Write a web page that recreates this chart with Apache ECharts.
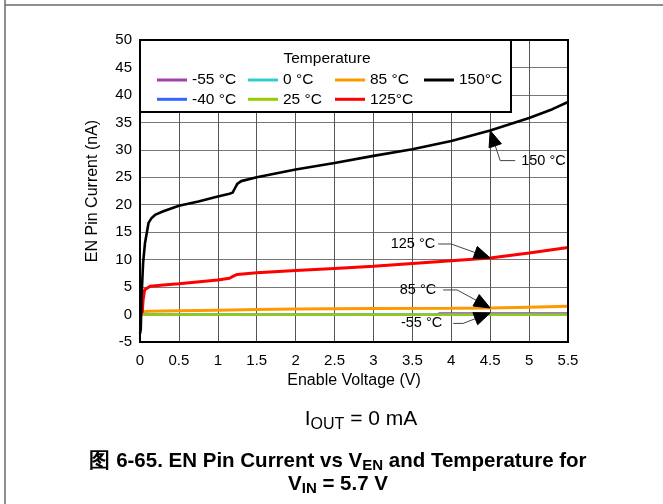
<!DOCTYPE html>
<html>
<head>
<meta charset="utf-8">
<script src="https://cdn.jsdelivr.net/npm/echarts@6/dist/echarts.min.js"></script>
<style>
html,body{margin:0;padding:0;background:#fff;}
#c{width:663px;height:504px;}
</style>
</head>
<body>
<div id="c"></div>
<script>
// ---- data (Enable Voltage V, EN Pin Current nA) ----
const xTicks = [0, 0.5, 1, 1.5, 2, 2.5, 3, 3.5, 4, 4.5, 5, 5.5];
const seriesNames = ['-55 °C', '-40 °C', '0 °C', '25 °C', '85 °C', '125°C', '150°C'];
const tM55 = [[0,0],[3.8,0],[3.85,0.3],[5.5,0.3]];
const tM40 = [[0,0],[5.5,0]];
const t0   = [[0,0],[5.5,0]];
const t25  = [[0,0],[5.5,0]];
const t85  = [[0,0],[0.05,0.5],[0.1,0.6],[0.5,0.7],[1.0,0.8],[1.5,0.9],[2.0,1.0],[3.0,1.1],[4.0,1.15],[4.5,1.2],[5.0,1.35],[5.5,1.5]];
const t125 = [[0,0],[0.03,0.5],[0.04,2.7],[0.06,4.5],[0.13,5.15],[0.3,5.4],[0.5,5.6],[1.0,6.3],[1.15,6.6],[1.2,7.0],[1.25,7.3],[1.5,7.6],[2.0,8.0],[2.5,8.4],[3.0,8.8],[3.5,9.3],[4.0,9.8],[4.5,10.3],[5.0,11.2],[5.5,12.2]];
const t150 = [[0,-3.5],[0.01,-2.7],[0.02,3.3],[0.04,9.4],[0.064,13],[0.11,16.7],[0.15,17.6],[0.2,18.2],[0.3,18.8],[0.5,19.8],[0.75,20.6],[1.0,21.5],[1.15,22.0],[1.19,22.2],[1.22,23.0],[1.25,23.8],[1.3,24.3],[1.5,25.0],[2.0,26.4],[2.5,27.6],[3.0,28.9],[3.5,30.1],[4.0,31.6],[4.5,33.5],[5.0,35.8],[5.3,37.4],[5.5,38.7]];
// annotation anchors (x, y on curve)
const annotations = [
  {label:'150 °C', at:[4.5,33.5]},
  {label:'125 °C', at:[4.5,10.3]},
  {label:'85 °C',  at:[4.5,1.2]},
  {label:'-55 °C', at:[4.5,0.3]}
];

const FONT = '"Liberation Sans", Arial, sans-serif';
const colors = {'-55 °C':'#a040a8','-40 °C':'#3366ff','0 °C':'#33cccc','25 °C':'#99cc00','85 °C':'#ff9900','125°C':'#ff0000','150°C':'#000000'};
const widths = {'-55 °C':1.5,'-40 °C':2,'0 °C':2,'25 °C':2.2,'85 °C':3,'125°C':3,'150°C':2.6};
const dataMap = {'-55 °C':tM55,'-40 °C':tM40,'0 °C':t0,'25 °C':t25,'85 °C':t85,'125°C':t125,'150°C':t150};

const chart = echarts.init(document.getElementById('c'), null, {renderer:'canvas'});

function legendCol(left, names){
  return {
    orient:'vertical', left:left, top:67, itemWidth:30, itemHeight:14, itemGap:3.3,
    icon:'path://M0,5.5 L30,5.5 L30,8.5 L0,8.5 Z',
    selectedMode:false, z:10,
    textStyle:{fontFamily:FONT, fontSize:15.5, color:'#000', lineHeight:15},
    data:names.map(n=>({name:n, itemStyle:{color:colors[n]}}))
  };
}

const option = {
  animation:false,
  backgroundColor:'#fff',
  grid:{left:140, right:95, top:40, bottom:162, containLabel:false},
  xAxis:{
    type:'value', min:0, max:5.5, interval:0.5,
    name:'Enable Voltage (V)', nameLocation:'middle', nameGap:31,
    nameTextStyle:{fontFamily:FONT, fontSize:16, color:'#000'},
    axisLine:{show:false}, axisTick:{show:false},
    axisLabel:{fontFamily:FONT, fontSize:15, color:'#000', margin:11, formatter:v=>String(v)},
    splitLine:{show:true, lineStyle:{color:'#555', width:1}}
  },
  yAxis:{
    type:'value', min:-5, max:50, interval:5,
    name:'EN Pin Current (nA)', nameLocation:'middle', nameGap:39,
    nameTextStyle:{fontFamily:FONT, fontSize:16, color:'#000'},
    axisLine:{show:false}, axisTick:{show:false},
    axisLabel:{fontFamily:FONT, fontSize:15, color:'#000', margin:8},
    splitLine:{show:true, lineStyle:{color:'#777', width:1}}
  },
  legend:[
    legendCol(152, ['-55 °C','-40 °C']),
    legendCol(243, ['0 °C','25 °C']),
    legendCol(330, ['85 °C','125°C']),
    legendCol(419, ['150°C'])
  ],
  series: seriesNames.map(n=>({
    name:n, type:'line', data:dataMap[n], showSymbol:false, symbol:'none',
    lineStyle:{color:colors[n], width:widths[n]}, itemStyle:{color:colors[n]},
    z: n==='150°C'?6:(n==='125°C'?5:(n==='85 °C'?4:3))
  }))
};
chart.setOption(option);

// ---- graphics: frames, legend box, annotations, captions ----
const g = [];
const p0 = chart.convertToPixel({gridIndex:0},[0,50]);
const p1 = chart.convertToPixel({gridIndex:0},[5.5,-5]);
// page frame
g.push({type:'line', shape:{x1:5,y1:5,x2:663,y2:5}, style:{stroke:'#6a6a6a', lineWidth:1.5}, z:1});
g.push({type:'line', shape:{x1:5,y1:0,x2:5,y2:504}, style:{stroke:'#6a6a6a', lineWidth:1.5}, z:1});
// plot frame
g.push({type:'rect', shape:{x:p0[0],y:p0[1],width:p1[0]-p0[0],height:p1[1]-p0[1]}, style:{fill:null, stroke:'#000', lineWidth:2}, z:8});
// legend box
g.push({type:'rect', shape:{x:p0[0],y:p0[1],width:371,height:72}, style:{fill:'#fff', stroke:'#000', lineWidth:2}, z:7});
g.push({type:'text', x:327, y:59, style:{text:'Temperature', fontFamily:FONT, fontSize:15.5, fill:'#000', align:'center', verticalAlign:'middle'}, z:10});

// annotations: offsets in pixels relative to arrow tip
const annLayout = {
  '150 °C':{bend:[10,30], end:[25,30], text:[31,30], align:'left'},
  '125 °C':{bend:[-39,-14], end:[-52,-14], text:[-55,-14], align:'right'},
  '85 °C': {bend:[-33,-18], end:[-47,-18], text:[-54,-18], align:'right'},
  '-55 °C':{bend:[-27,10.5], end:[-37,10.5], text:[-48,10.5], align:'right'}
};
annotations.forEach(a=>{
  const t = chart.convertToPixel({gridIndex:0}, a.at);
  const L = annLayout[a.label];
  const bx = t[0]+L.bend[0], by = t[1]+L.bend[1];
  const ex = t[0]+L.end[0], ey = t[1]+L.end[1];
  let dx = bx-t[0], dy = by-t[1];
  const len = Math.sqrt(dx*dx+dy*dy); dx/=len; dy/=len;
  const HL = 16, HW = 6.5;
  const cx = t[0]+dx*HL, cy = t[1]+dy*HL;
  const nx = -dy, ny = dx;
  g.push({type:'polyline', shape:{points:[[ex,ey],[bx,by],[cx,cy]]}, style:{stroke:'#444', lineWidth:1, fill:null}, z:9});
  g.push({type:'polygon', shape:{points:[[t[0],t[1]],[cx+nx*HW,cy+ny*HW],[cx-nx*HW,cy-ny*HW]]}, style:{fill:'#000', stroke:'#000', lineWidth:1}, z:9});
  g.push({type:'text', x:t[0]+L.text[0], y:t[1]+L.text[1], style:{text:a.label, fontFamily:FONT, fontSize:14.5, fill:'#000', align:L.align, verticalAlign:'middle'}, z:10});
});

// captions
g.push({type:'text', x:361, y:419, style:{
  text:'{a|I}{s|OUT}{a| = 0 mA}', align:'center', verticalAlign:'middle',
  rich:{a:{fontFamily:FONT, fontSize:21, fill:'#000', lineHeight:28, verticalAlign:'middle'},
        s:{fontFamily:FONT, fontSize:16, fill:'#000', lineHeight:16, verticalAlign:'bottom'}}
}, z:10});
g.push({type:'text', x:338, y:473, style:{
  text:'{a|图 6-65. EN Pin Current vs V}{s|EN}{a| and Temperature for}\n{a|V}{s|IN}{a| = 5.7 V}', align:'center', verticalAlign:'middle',
  rich:{a:{fontFamily:FONT, fontSize:20.5, fontWeight:'bold', fill:'#000', lineHeight:23, verticalAlign:'middle'},
        s:{fontFamily:FONT, fontSize:15, fontWeight:'bold', fill:'#000', lineHeight:14, verticalAlign:'bottom'}}
}, z:10});

chart.setOption({graphic:{elements:g}});
</script>
</body>
</html>
